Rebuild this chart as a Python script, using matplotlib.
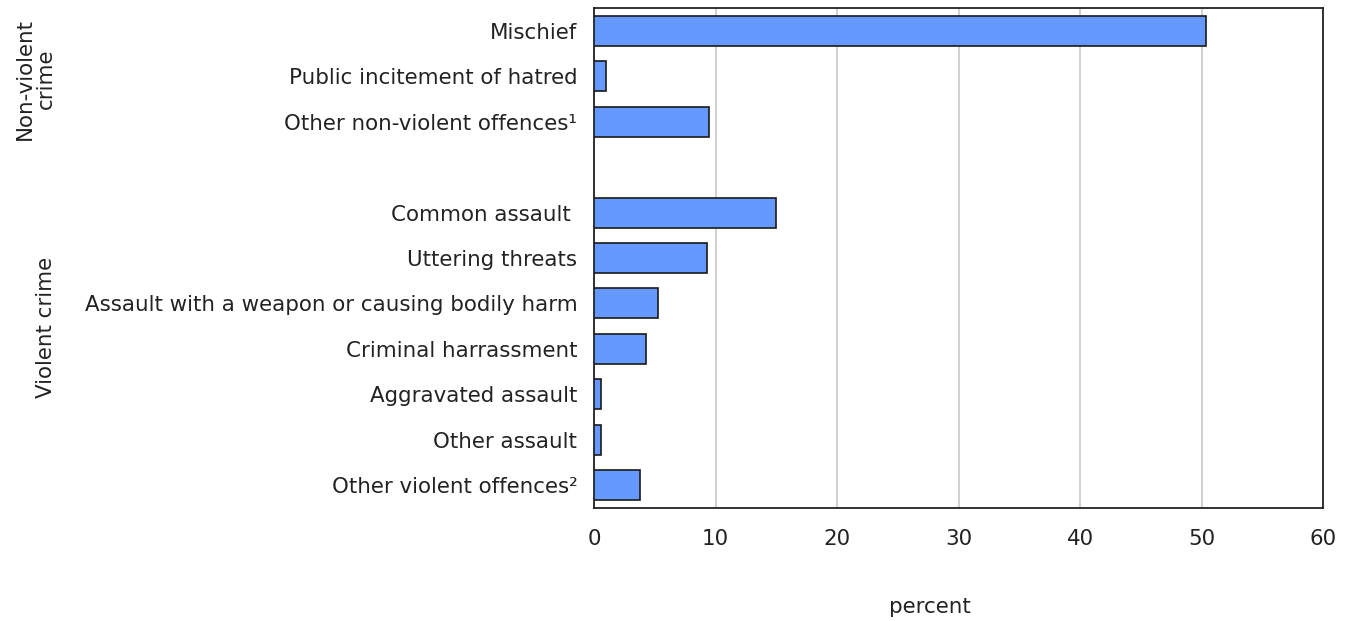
import matplotlib
matplotlib.use("Agg")
import matplotlib.pyplot as plt
import numpy as np

# Data (percent)
nonviolent_labels = ["Mischief", "Public incitement of hatred", "Other non-violent offences\u00b9"]
nonviolent_values = [50.4, 1.0, 9.5]
violent_labels = [
    "Common assault ",
    "Uttering threats",
    "Assault with a weapon or causing bodily harm",
    "Criminal harrassment",
    "Aggravated assault",
    "Other assault",
    "Other violent offences\u00b2",
]
violent_values = [15.0, 9.3, 5.3, 4.3, 0.55, 0.55, 3.8]
x_ticks = [0, 10, 20, 30, 40, 50, 60]

FONT = "DejaVu Sans"
FS = 15.4
plt.rcParams["font.family"] = [FONT]

fig = plt.figure(figsize=(13.48, 6.21), dpi=100)
ax = fig.add_axes([594 / 1348, 1 - 508 / 621, (1323 - 594) / 1348, (508 - 8) / 621])

labels = nonviolent_labels + [""] + violent_labels
values = nonviolent_values + [np.nan] + violent_values
pos = np.arange(len(labels))

ax.barh(pos, values, height=0.66, color="#6699FF", edgecolor="#1a1a1a", linewidth=1.2, zorder=3)
ax.set_ylim(len(labels) - 0.5, -0.5)
ax.set_xlim(0, 60)
ax.set_yticks(pos)
ax.set_yticklabels(labels, fontsize=FS, color="#222222", fontfamily=FONT)
ax.set_xticks(x_ticks)
ax.set_xticklabels([str(t) for t in x_ticks], fontsize=FS, color="#222222", fontfamily=FONT)
ax.tick_params(axis="both", length=0)
ax.tick_params(axis="y", pad=12)
ax.tick_params(axis="x", pad=15)
ax.xaxis.grid(True, color="#c8c8c8", linewidth=1.2, zorder=0)
ax.set_axisbelow(True)
for sp in ax.spines.values():
    sp.set_color("#222222")
    sp.set_linewidth(1.3)

fig.text(930 / 1348, 1 - 607 / 621, "percent", ha="center", va="center",
         fontsize=FS, color="#222222", fontfamily=FONT)
fig.text(35 / 1348, 1 - 79 / 621, "Non-violent\ncrime", rotation=90, ha="center", va="center",
         fontsize=FS, color="#222222", linespacing=1.05, fontfamily=FONT)
fig.text(46 / 1348, 1 - 327 / 621, "Violent crime", rotation=90, ha="center", va="center",
         fontsize=FS, color="#222222", fontfamily=FONT)

fig.savefig("out.png", dpi=100)
